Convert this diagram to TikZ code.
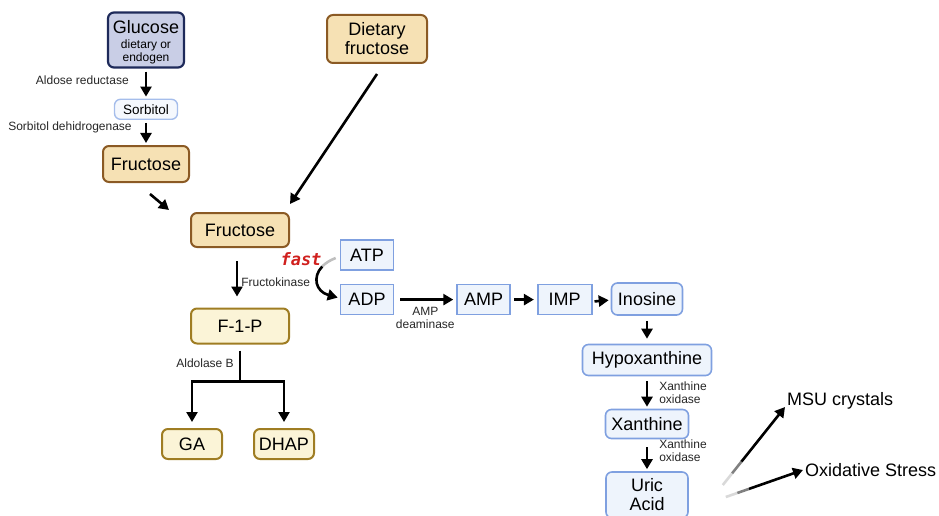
\documentclass[tikz,border=0pt]{standalone}
\usepackage{fontspec}
\setmainfont{Liberation Sans}
\newfontfamily\fastfont{DejaVu Sans Mono}
\usepackage{xcolor}
\usetikzlibrary{arrows.meta, positioning, calc}

\definecolor{glcfill}{HTML}{C9CEE6}
\definecolor{glcdraw}{HTML}{1E2A5A}
\definecolor{frufill}{HTML}{F6E1B4}
\definecolor{frudraw}{HTML}{8B5A24}
\definecolor{fpfill}{HTML}{FBF4D7}
\definecolor{fpdraw}{HTML}{9F7D23}
\definecolor{purfill}{HTML}{EEF4FC}
\definecolor{purdraw}{HTML}{7FA0E0}
\definecolor{sorbdraw}{HTML}{A5BDEB}
\definecolor{fastred}{HTML}{D0201E}

\newcommand{\bigtxt}{\fontsize{18}{20}\selectfont}
\newcommand{\labtxt}{\fontsize{12}{13}\selectfont}

\begin{document}
\begin{tikzpicture}[
    x=1pt, y=-1pt,
    gluc/.style={draw=glcdraw, fill=glcfill, line width=2.2pt, rounded corners=6pt,
                 minimum width=76pt, minimum height=55pt, align=center, inner sep=1pt},
    frubox/.style={draw=frudraw, fill=frufill, line width=2pt, rounded corners=6pt,
                   font=\bigtxt, align=center},
    fpbox/.style={draw=fpdraw, fill=fpfill, line width=2pt, rounded corners=6pt,
                  font=\bigtxt},
    purbox/.style={draw=purdraw, fill=purfill, line width=1.6pt, minimum width=53pt,
                   minimum height=30pt, font=\bigtxt},
    purround/.style={purbox, rounded corners=6pt, align=center},
    lab/.style={font=\labtxt, text=black!85, inner sep=0pt, align=left},
    outtxt/.style={font=\bigtxt, inner sep=0pt, anchor=west},
    line/.style={line width=2.6pt},
    arr/.style={-{Triangle[length=10pt,width=11pt]}, line width=2.6pt}
]
\useasboundingbox (0,0) rectangle (939,516);

% sorbitol route
\node[gluc, font=\bigtxt] (glucose) at (146,40)
    {\rule{0pt}{18pt}Glucose\\[-5pt]{\labtxt dietary or}\\[-7pt]{\labtxt endogen}};
\node[purround, draw=sorbdraw, fill=purfill!60, line width=1.4pt, minimum width=63pt,
      minimum height=20pt, font=\fontsize{13.5}{15}\selectfont, below=30pt of glucose] (sorbitol) {Sorbitol};
\node[frubox, minimum width=86pt, minimum height=36pt] (fru1) at (146,164) {Fructose};

\node[frubox, minimum width=100pt, minimum height=48pt] (dietary) at (377,39) {Dietary\\[-1pt]fructose};
\node[frubox, minimum width=98pt, minimum height=34pt] (fru2) at (240,230) {Fructose};

% fructolysis
\node[fpbox, minimum width=98pt, minimum height=35pt] (f1p) at (240,326) {F-1-P};
\coordinate (split) at ($(f1p.south)+(0,37)$);
\node[fpbox, minimum width=60pt, minimum height=30pt] (ga) at (192,444) {GA};
\node[fpbox, minimum width=60pt, minimum height=30pt] (dhap) at (284,444) {DHAP};

% purine degradation
\node[purbox] (atp) at (367,255) {ATP};
\node[purbox, below=13pt of atp] (adp) {ADP};
\node[purbox, right=62pt of adp] (amp) {AMP};
\node[purbox, minimum width=54pt, right=26pt of amp] (imp) {IMP};
\node[purround, minimum width=71pt, minimum height=32pt] (inosine) at (647,299) {Inosine};
\node[purround, minimum width=129pt, minimum height=31pt] (hypox) at (647,360) {Hypoxanthine};
\node[purround, minimum width=83pt, minimum height=29pt] (xanth) at (647,424) {Xanthine};
\node[purround, minimum width=82pt, minimum height=46pt] (uric) at (647,495) {Uric\\[-1pt]Acid};

\node[outtxt] (msu) at (787,401) {MSU crystals};
\node[outtxt] (oxid) at (805,470) {Oxidative Stress};
\node[font=\fastfont\bfseries\itshape\fontsize{17}{19}\selectfont, text=fastred] (fast) at (301,259) {fast};

\coordinate (uaTop) at ($(uric.east)+(34,-10)$);
\coordinate (uaBot) at ($(uric.east)+(37,2)$);
\coordinate (msuEnd) at ([xshift=-2pt,yshift=-6pt]msu.west);
\coordinate (oxEnd) at ([xshift=-2pt]oxid.west);
\coordinate (fkMid) at (322.2,266.5);

% arrows
\draw[arr, shorten <=3pt, shorten >=2pt] (glucose) -- node[lab, left=16pt, pos=0.4] {Aldose reductase} (sorbitol);
\draw[arr, shorten <=3pt, shorten >=2pt] (sorbitol) -- node[lab, left=13pt, pos=0.3] {Sorbitol dehidrogenase} (fru1);
\draw[arr] ([xshift=4pt,yshift=-11pt]fru1.south) -- ([xshift=-21pt,yshift=2pt]fru2.north west);
\draw[arr] ([yshift=-10pt]dietary.south) -- ([yshift=8pt]fru2.north east);

\draw[arr] ([xshift=-3pt,yshift=-13pt]fru2.south) -- node[lab, right=3pt, pos=0.6] {Fructokinase} ([xshift=-3pt,yshift=11pt]f1p.north);
\draw[line] ([yshift=-6pt]f1p.south) -- node[lab, left=5pt, pos=0.4] {Aldolase B} (split);
\draw[arr, shorten >=6pt] (split) -| (ga);
\draw[arr, shorten >=6pt] (split) -| (dhap);

% ATP -> ADP, fading in from ATP
\draw[line, black!25] ([xshift=-4pt,yshift=-3pt]atp.west) .. controls (330.4,260) and (325.5,263) .. (fkMid);
\draw[arr] (fkMid) .. controls (312.2,276.9) and (315.6,291.5) .. ([xshift=-2pt,yshift=2pt]adp.west);

\draw[arr, shorten <=6pt, shorten >=3pt] (adp) -- node[lab, below=6pt, align=center] {AMP\\deaminase} (amp);
\draw[arr, shorten <=3pt, shorten >=3pt] (amp) -- (imp);
\draw[arr, shorten <=2pt, shorten >=2pt] ([yshift=-2pt]imp.east) -- ([yshift=-1pt]inosine.west);
\draw[arr, shorten <=5pt, shorten >=5pt] (inosine) -- (hypox);
\draw[arr, shorten <=5pt, shorten >=2pt] (hypox) -- node[lab, right=11pt] {Xanthine\\oxidase} (xanth);
\draw[arr, shorten <=8pt, shorten >=2pt] (xanth) -- node[lab, right=11pt, pos=0.35] {Xanthine\\oxidase} (uric);

% uric acid outcomes, fading in
\draw[line, black!15] (uaTop) -- ($(uaTop)!0.15!(msuEnd)$);
\draw[line, black!50] ($(uaTop)!0.15!(msuEnd)$) -- ($(uaTop)!0.3!(msuEnd)$);
\draw[arr] ($(uaTop)!0.3!(msuEnd)$) -- (msuEnd);
\draw[line, black!15] (uaBot) -- ($(uaBot)!0.15!(oxEnd)$);
\draw[line, black!50] ($(uaBot)!0.15!(oxEnd)$) -- ($(uaBot)!0.3!(oxEnd)$);
\draw[arr] ($(uaBot)!0.3!(oxEnd)$) -- (oxEnd);
\end{tikzpicture}
\end{document}
